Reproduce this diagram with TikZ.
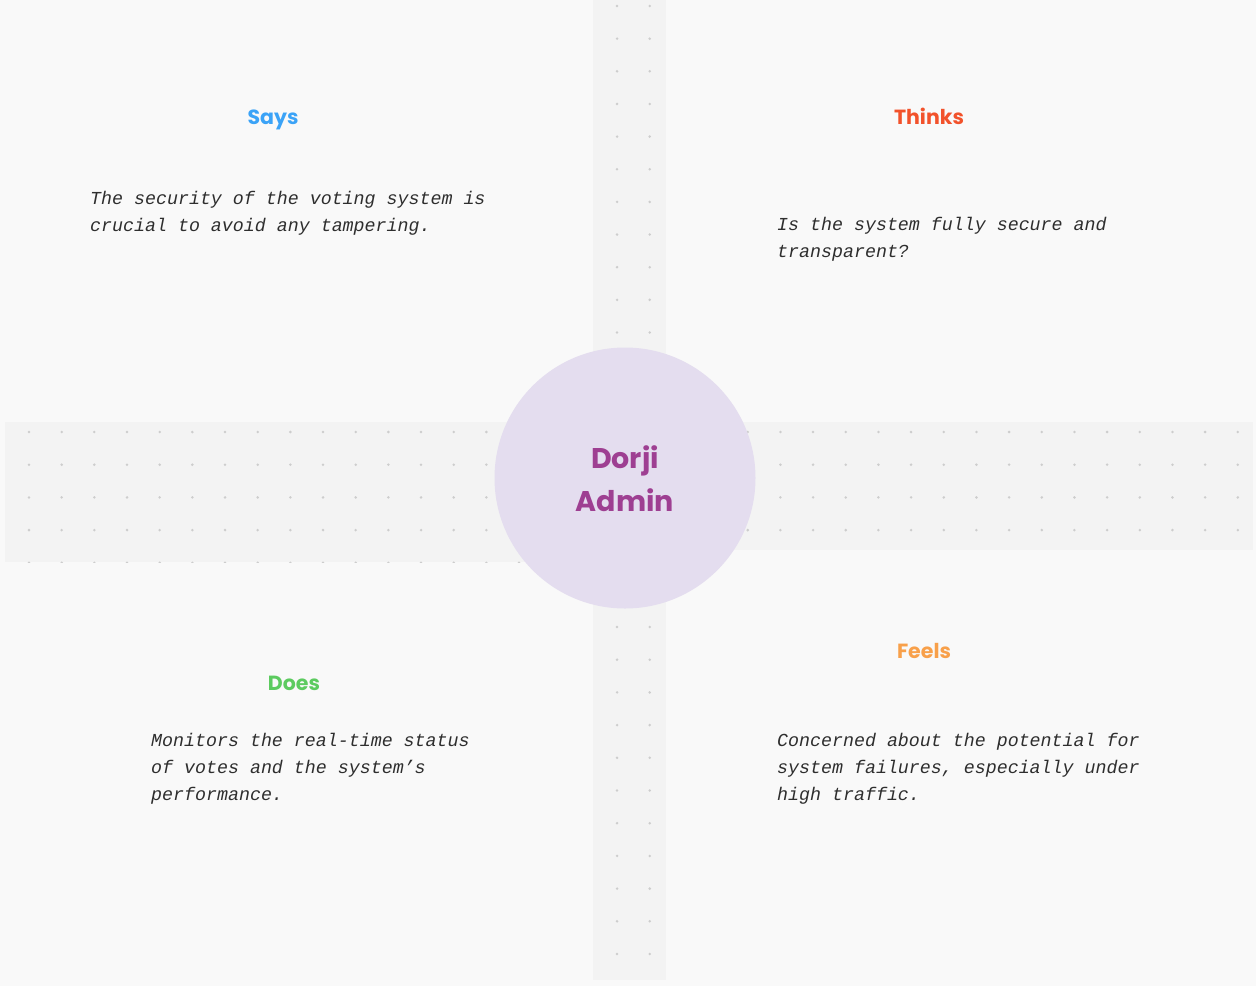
\documentclass[tikz,border=0pt]{standalone}
\usepackage{fontspec}
\setmainfont{Poppins}
\newfontfamily\monoit{Liberation Mono}
\definecolor{pagebg}{HTML}{F9F9F9}
\definecolor{bandbg}{HTML}{F3F3F3}
\definecolor{dotc}{HTML}{CDCDCD}
\definecolor{circfill}{HTML}{E4DDEF}
\definecolor{circtext}{HTML}{9E3F92}
\definecolor{saysc}{HTML}{3BA3F7}
\definecolor{thinksc}{HTML}{F2522B}
\definecolor{doesc}{HTML}{5CCB5F}
\definecolor{feelsc}{HTML}{F8A04A}
\definecolor{bodyc}{HTML}{2E2E2E}
\begin{document}
\begin{tikzpicture}[x=1pt,y=-1pt,
  heading/.style={anchor=base,inner sep=0pt,font=\bfseries\fontsize{20.5}{24}\selectfont},
  bodytext/.style={anchor=base west,inner sep=0pt,align=left,text=bodyc,
    font=\monoit\itshape\fontsize{18.3}{27}\selectfont},
  griddot/.style={fill=dotc,draw=none}]
\useasboundingbox (0,0) rectangle (1256,986);
\fill[pagebg] (0,0) rectangle (1256,986);
% bands
\fill[bandbg] (5,422) rectangle (625,562);
\fill[bandbg] (625,422) rectangle (1253,550);
\fill[bandbg] (593,0) rectangle (666,980);
% dots in horizontal bands
\begin{scope}
\clip (5,422) rectangle (625,562.3);
\foreach \i in {0,...,18} \foreach \j in {0,...,4}
  \fill[griddot] ({29+32.67*\i},{432+32.7*\j}) circle (1.4);
\end{scope}
\foreach \i in {22,...,37} \foreach \j in {0,...,3}
  \fill[griddot] ({29+32.67*\i},{432+32.7*\j}) circle (1.4);
% dots in vertical band
\foreach \i in {18,19} {
  \foreach \j in {0,...,10}
    \fill[griddot] ({29+32.67*\i},{6+32.65*\j}) circle (1.4);
  \foreach \j in {0,...,10}
    \fill[griddot] ({29+32.67*\i},{627+32.7*\j}) circle (1.4);
}
% centre circle
\node[circle,fill=circfill,draw=none,minimum size=261pt,inner sep=0pt] (center) at (625,478) {};
\node[heading,text=circtext,font=\bfseries\fontsize{28.5}{34}\selectfont] (dorji) at (625,468) {Dorji};
\node[heading,text=circtext,font=\bfseries\fontsize{28.5}{34}\selectfont] (admin) at (625,511) {Admin};
% headings
\node[heading,text=saysc] (says) at (273,124) {Says};
\node[heading,text=thinksc] (thinks) at (929,124) {Thinks};
\node[heading,text=doesc] (does) at (294,690) {Does};
\node[heading,text=feelsc] (feels) at (924,658) {Feels};
% bodies (base anchor = last line)
\node[bodytext] (saysbody) at (90,231) {The security of the voting system is\\crucial to avoid any tampering.};
\node[bodytext] (thinksbody) at (777,257) {Is the system fully secure and\\transparent?};
\node[bodytext] (doesbody) at (151,800) {Monitors the real-time status\\of votes and the system’s\\performance.};
\node[bodytext] (feelsbody) at (777,800) {Concerned about the potential for\\system failures, especially under\\high traffic.};
\end{tikzpicture}
\end{document}
